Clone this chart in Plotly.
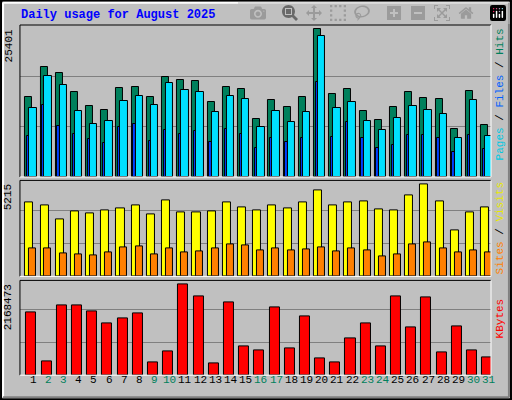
import plotly.graph_objects as go

days = list(range(1, 32))
weekend = [2, 3, 9, 10, 16, 17, 23, 24, 30, 31]

hits = [13345, 18391, 17382, 14186, 11831, 11326, 14859, 15027, 13345, 16709, 16204, 16036, 12504, 15027, 14690, 9812,
        12840, 11663, 13345, 24783, 13849, 14690, 11158, 9644, 11663, 14186, 13176, 13008, 8130, 14354, 8803]
files = [11494, 16877, 15363, 11158, 8971, 9476, 12672, 13513, 11999, 15700, 14522, 14186, 10990, 13513, 13008, 8467,
         11158, 9308, 10990, 23605, 11494, 12504, 9476, 7962, 9980, 11831, 11326, 10653, 6616, 12840, 6953]
pages = [6953, 11999, 8635, 7289, 6448, 5775, 8467, 8971, 6112, 7962, 7289, 7794, 5943, 8130, 7289, 4934,
         6616, 5943, 6616, 15868, 6784, 9308, 6616, 4934, 5439, 7121, 7121, 6616, 4261, 7121, 4766]
visits = [3898, 3740, 3003, 3424, 3319, 3477, 3582, 3740, 3266, 4004, 3372, 3372, 3424, 3898, 3635, 3477,
          3740, 3582, 3898, 4530, 3740, 3898, 3951, 3530, 3477, 4267, 4847, 3951, 2423, 3372, 3635]
sites = [1475, 1475, 1212, 1159, 1106, 1264, 1528, 1580, 1159, 1475, 1264, 1317, 1475, 1686, 1633, 1370,
         1475, 1370, 1422, 1528, 1317, 1475, 1370, 1054, 1159, 1686, 1791, 1475, 1264, 1370, 1264]
kbytes = [1379889, 306642, 1533210, 1533210, 1401792, 1138956, 1248471, 1357986, 284739, 525672, 1993173, 1730337,
          262836, 1598919, 635187, 547575, 1489404, 591381, 1292277, 372351, 284739, 810411, 1138956, 635187,
          1730337, 1051344, 1708434, 503769, 1073247, 547575, 394254]

max_hits = 25401
max_visits = 5215
max_kbytes = 2168473

GREY = "#C0C0C0"
mono = "Liberation Mono"


def bar(y, color, off, w, xa, ya):
    return go.Bar(x=days, y=y, offset=off, width=w, xaxis=xa, yaxis=ya,
                  marker=dict(color=color, line=dict(color="black", width=1)), showlegend=False)


fig = go.Figure([
    bar(hits, "#00805C", -0.15, 0.46, "x", "y"),
    bar(pages, "#0040FF", -0.04, 0.18, "x", "y"),
    bar(files, "#00E0FF", 0.11, 0.49, "x", "y"),
    bar(visits, "#FFFF00", -0.15, 0.53, "x2", "y2"),
    bar(sites, "#FF8000", 0.11, 0.46, "x2", "y2"),
    bar(kbytes, "#FF0000", -0.08, 0.66, "x3", "y3"),
])

xa = dict(range=[0.5, 31.5], domain=[0.039, 0.959], showticklabels=False, showgrid=False,
          zeroline=False, ticks="")
panels = [("y", max_hits, 25401 * 1.004, [0.5575, 0.9375]),
          ("y2", max_visits, 5060, [0.309, 0.549]),
          ("y3", max_kbytes, 2080000, [0.062, 0.299])]

layout = dict(width=512, height=400, margin=dict(l=0, r=0, t=0, b=0),
              paper_bgcolor=GREY, plot_bgcolor=GREY, barmode="overlay", bargap=0)
shapes = []
annotations = []
for i, (name, mx, top, dom) in enumerate(panels):
    sfx = "" if i == 0 else str(i + 1)
    layout["xaxis" + sfx] = dict(xa, anchor=name)
    layout["yaxis" + sfx] = dict(range=[0, top], domain=dom, showticklabels=False, zeroline=False,
                                 tickvals=[mx / 3, 2 * mx / 3], gridcolor="#808080", gridwidth=1, ticks="")
    # inset frame
    x0, x1 = 0.039, 0.959
    shapes += [
        dict(type="line", xref="paper", yref="paper", x0=x0, x1=x1, y0=dom[1], y1=dom[1], line=dict(color="black", width=1)),
        dict(type="line", xref="paper", yref="paper", x0=x0, x1=x0, y0=dom[0], y1=dom[1], line=dict(color="black", width=1)),
        dict(type="line", xref="paper", yref="paper", x0=x0, x1=x1, y0=dom[0], y1=dom[0], line=dict(color="white", width=1)),
        dict(type="line", xref="paper", yref="paper", x0=x1, x1=x1, y0=dom[0], y1=dom[1], line=dict(color="white", width=1)),
    ]
    annotations.append(dict(xref="paper", yref="paper", x=0.033, y=dom[1] - 0.005, text=str(mx),
                            textangle=-90, showarrow=False, xanchor="right", yanchor="top",
                            font=dict(family=mono, size=11, color="black")))

# right side labels
def side(parts, y):
    txt = "<span style='color:black'> / </span>".join(
        "<span style='color:%s'>%s</span>" % (c, t) for t, c in parts)
    annotations.append(dict(xref="paper", yref="paper", x=0.993, y=y, text=txt, textangle=-90,
                            showarrow=False, xanchor="right", yanchor="top",
                            font=dict(family=mono, size=11)))

side([("Pages", "#00C8E0"), ("Files", "#0060FF"), ("Hits", "#00805C")], 0.935)
side([("Sites", "#FF8000"), ("Visits", "#E8E800")], 0.55)
side([("KBytes", "#FF0000")], 0.26)

for d in days:
    annotations.append(dict(xref="x3", yref="paper", x=d + 0.36, y=0.03, text=str(d), showarrow=False,
                            font=dict(family=mono, size=11, color="#00805C" if d in weekend else "black")))

annotations.append(dict(xref="paper", yref="paper", x=0.037, y=0.985, xanchor="left", yanchor="top",
                        text="<b>Daily usage for August 2025</b>", showarrow=False,
                        font=dict(family=mono, size=12, color="#0000FF")))

# outer bevel
shapes += [
    dict(type="rect", xref="paper", yref="paper", x0=0.002, x1=0.998, y0=0.002, y1=0.998,
         line=dict(color="black", width=2)),
    dict(type="line", xref="paper", yref="paper", x0=0.006, x1=0.994, y0=0.993, y1=0.993, line=dict(color="white", width=2)),
    dict(type="line", xref="paper", yref="paper", x0=0.006, x1=0.006, y0=0.007, y1=0.993, line=dict(color="white", width=2)),
    dict(type="line", xref="paper", yref="paper", x0=0.006, x1=0.994, y0=0.007, y1=0.007, line=dict(color="#808080", width=2)),
    dict(type="line", xref="paper", yref="paper", x0=0.994, x1=0.994, y0=0.007, y1=0.993, line=dict(color="#808080", width=2)),
]
layout["shapes"] = shapes
layout["annotations"] = annotations
fig.update_layout(**layout)
fig.write_html("out.html", post_script="document.body.style.margin='0';document.body.style.overflow='hidden';")
